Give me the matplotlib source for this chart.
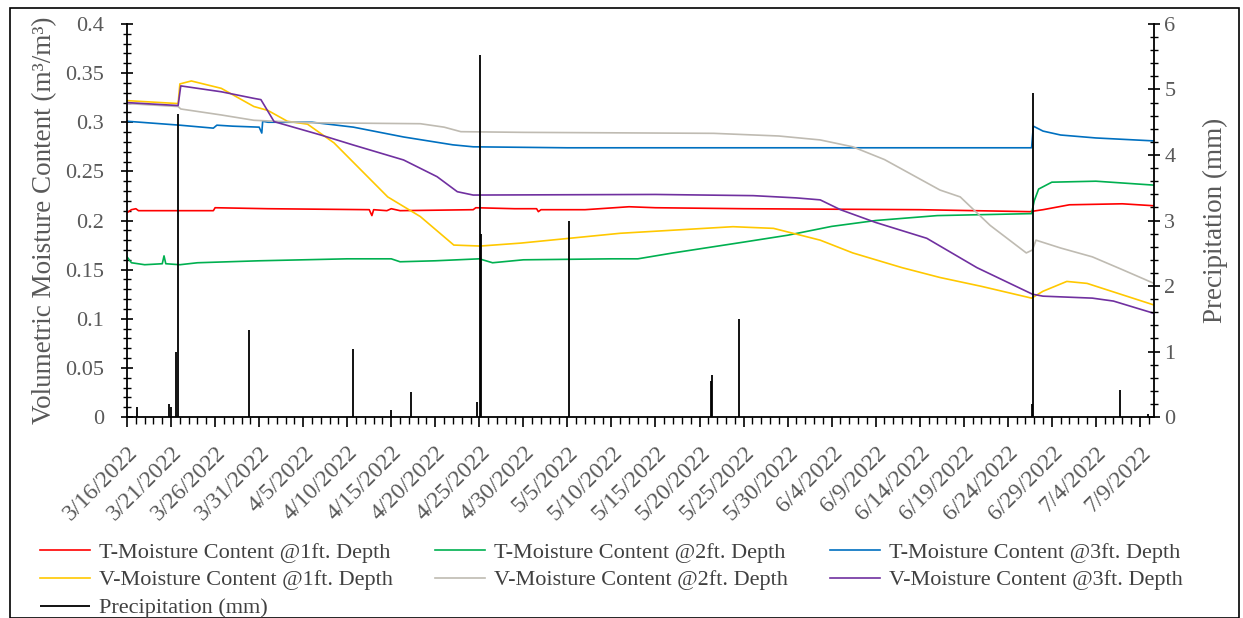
import pandas as pd
import matplotlib.pyplot as plt
import matplotlib.dates as mdates
from matplotlib.ticker import MultipleLocator
from matplotlib.patches import Rectangle

plt.rcParams['font.family'] = ['Liberation Serif', 'DejaVu Serif']

start = pd.Timestamp('2022-03-16')

# moisture readings: day of record (since 3/16/2022) and value (m3/m3)
t1_day = [0, 0.5, 1.0, 1.3, 9.8, 10.0, 16, 27.5, 27.8, 28.0, 29.5, 30, 31, 39.3, 39.6, 44, 46.5, 46.7, 47,
          52, 57, 60, 70, 90, 102.5, 104, 107, 113, 116.6]
t1_val = [0.208, 0.211, 0.212, 0.210, 0.210, 0.213, 0.212, 0.211, 0.205, 0.211, 0.210, 0.212, 0.210, 0.211,
          0.213, 0.212, 0.212, 0.209, 0.211, 0.211, 0.214, 0.213, 0.212, 0.211, 0.209, 0.211, 0.216, 0.217, 0.215]

t2_day = [0, 0.5, 2, 4.0, 4.2, 4.4, 6, 8, 15, 25, 30, 31, 35, 40, 41.5, 45, 55, 58, 62, 70, 75, 80, 85, 92,
          102.7, 103.0, 103.5, 105, 110, 116.6]
t2_val = [0.163, 0.157, 0.155, 0.156, 0.164, 0.156, 0.155, 0.157, 0.159, 0.161, 0.161, 0.158, 0.159, 0.161,
          0.157, 0.160, 0.161, 0.161, 0.167, 0.178, 0.185, 0.194, 0.200, 0.205, 0.207, 0.220, 0.232, 0.239,
          0.240, 0.236]

t3_day = [0, 3, 6, 9.8, 10.2, 12, 15.0, 15.3, 15.4, 16, 21, 25.7, 31.4, 37, 39.3, 50, 102.7, 102.9, 104,
          106, 110, 116.6]
t3_val = [0.301, 0.299, 0.297, 0.294, 0.297, 0.296, 0.295, 0.289, 0.301, 0.300, 0.300, 0.295, 0.285, 0.277,
          0.275, 0.274, 0.274, 0.296, 0.291, 0.287, 0.284, 0.281]

v1_day = [0, 5.8, 6.0, 7.3, 10.7, 14.4, 16, 18.2, 20.5, 23.5, 29.6, 33.3, 37.1, 40.1, 44.7, 56, 68.8, 73.4,
          78.7, 82.4, 88, 92.3, 97, 102.7, 104, 106.7, 109, 116.6]
v1_val = [0.322, 0.319, 0.339, 0.342, 0.3345, 0.316, 0.312, 0.301, 0.298, 0.279, 0.224, 0.204, 0.175, 0.174,
          0.177, 0.187, 0.1937, 0.192, 0.180, 0.167, 0.152, 0.142, 0.133, 0.121, 0.128, 0.138, 0.136, 0.114]

v2_day = [0, 5.8, 6.1, 10.7, 14.4, 20.5, 33.3, 36, 37.9, 45, 66.6, 74, 78.7, 82.4, 86, 92.3, 94.6, 98,
          102.1, 102.8, 103.2, 106, 109.6, 113, 116.6]
v2_val = [0.319, 0.316, 0.3135, 0.3074, 0.302, 0.2995, 0.2985, 0.295, 0.2904, 0.2897, 0.2887, 0.286, 0.282,
          0.275, 0.262, 0.231, 0.224, 0.195, 0.167, 0.170, 0.180, 0.172, 0.163, 0.150, 0.136]

v3_day = [0, 5.8, 6.1, 10.7, 14.4, 15.2, 16.7, 22, 25.7, 31.4, 35.2, 37.5, 39.3, 60, 71.1, 76, 78.7, 81,
          85, 90.8, 96.5, 102.8, 104, 109.6, 112, 116.6]
v3_val = [0.320, 0.317, 0.337, 0.331, 0.3243, 0.323, 0.3006, 0.287, 0.2768, 0.2616, 0.2446, 0.2293, 0.2259,
          0.2265, 0.2253, 0.223, 0.221, 0.211, 0.198, 0.1819, 0.152, 0.125, 0.123, 0.121, 0.118, 0.1055]

# precipitation events (mm)
rain_day = [1.1, 4.8, 5.0, 5.6, 5.8, 13.85, 25.65, 30.0, 32.2, 39.7, 40.05, 40.2, 50.2, 66.3, 66.4, 69.5,
            102.7, 102.85, 112.7, 115.9]
rain_mm = [0.15, 0.2, 0.15, 1.0, 4.63, 1.33, 1.04, 0.1, 0.38, 0.23, 5.53, 2.8, 3.0, 0.55, 0.64, 1.5,
           0.2, 4.95, 0.41, 0.05]


def to_dates(days):
    return start + pd.to_timedelta(days, unit='D')


fig = plt.figure(figsize=(12.43, 6.18), dpi=100)
ax = fig.add_axes([0.1022, 0.3252, 0.8262, 0.636])
ax2 = ax.twinx()

lw = 1.2
l1, = ax.plot(to_dates(t1_day), t1_val, color='#FF0000', lw=lw, label='T-Moisture Content @1ft. Depth')
l2, = ax.plot(to_dates(t2_day), t2_val, color='#00B050', lw=lw, label='T-Moisture Content @2ft. Depth')
l3, = ax.plot(to_dates(t3_day), t3_val, color='#0070C0', lw=lw, label='T-Moisture Content @3ft. Depth')
l4, = ax.plot(to_dates(v1_day), v1_val, color='#FFC800', lw=lw, label='V-Moisture Content @1ft. Depth')
l5, = ax.plot(to_dates(v2_day), v2_val, color='#BFBBB2', lw=lw, label='V-Moisture Content @2ft. Depth')
l6, = ax.plot(to_dates(v3_day), v3_val, color='#7030A0', lw=lw, label='V-Moisture Content @3ft. Depth')
p = ax2.vlines(to_dates(rain_day), 0, rain_mm, color='black', lw=1.3, label='Precipitation (mm)')

ax.set_xlim(start, start + pd.Timedelta(days=116.6))
ax.set_ylim(0, 0.4)
ax2.set_ylim(0, 6)

ax.yaxis.set_major_locator(MultipleLocator(0.05))
ax.yaxis.set_minor_locator(MultipleLocator(0.01))
ax2.yaxis.set_major_locator(MultipleLocator(1))
ax2.yaxis.set_minor_locator(MultipleLocator(0.2))
ax.yaxis.set_major_formatter(plt.FuncFormatter(lambda v, pos: ('%g' % round(v, 2))))

ax.xaxis.set_major_locator(mdates.DayLocator(interval=5))
ax.xaxis.set_minor_locator(mdates.DayLocator())
ax.xaxis.set_major_formatter(plt.FuncFormatter(
    lambda v, pos: '{d.month}/{d.day}/{d.year}'.format(d=mdates.num2date(v))))

for a in (ax, ax2):
    a.spines['top'].set_visible(False)
    for s in a.spines.values():
        s.set_linewidth(1.3)
ax.spines['right'].set_visible(False)
ax2.spines['left'].set_visible(False)
ax2.spines['bottom'].set_visible(False)

gray = '#595959'
ax.tick_params(axis='y', which='major', direction='inout', length=9, width=1.2, labelsize=16,
               labelcolor=gray, pad=12)
ax.tick_params(axis='y', which='minor', direction='inout', length=6, width=1)
ax2.tick_params(axis='y', which='major', direction='inout', length=9, width=1.2, labelsize=16,
                labelcolor=gray, pad=3)
ax2.tick_params(axis='y', which='minor', direction='inout', length=6, width=1)
ax.tick_params(axis='x', which='major', direction='out', length=7, width=1.2, labelsize=17,
               labelcolor=gray, pad=11)
ax.tick_params(axis='x', which='minor', direction='out', length=5, width=1)
for lab in ax.get_xticklabels():
    lab.set_rotation(45)
    lab.set_ha('right')
    lab.set_rotation_mode('anchor')

ax.set_ylabel('Volumetric Moisture Content (m³/m³)', fontsize=19.5, color=gray, labelpad=6)
ax2.set_ylabel('Precipitation (mm)', fontsize=19.5, color=gray, labelpad=20)

fig.legend(handles=[l1, l4, p, l2, l5, l3, l6], ncol=3, loc='upper left',
           bbox_to_anchor=(0.0233, 0.141), frameon=False, fontsize=16, labelcolor='#404040',
           handlelength=2.25, handletextpad=0.4, columnspacing=1.9, borderpad=0, labelspacing=0.33)

fig.patches.append(Rectangle((10 / 1243, 0), 1229 / 1243, 1 - 8 / 618, transform=fig.transFigure,
                             fill=False, edgecolor='black', lw=1.2))

fig.savefig('out.png', dpi=100)
